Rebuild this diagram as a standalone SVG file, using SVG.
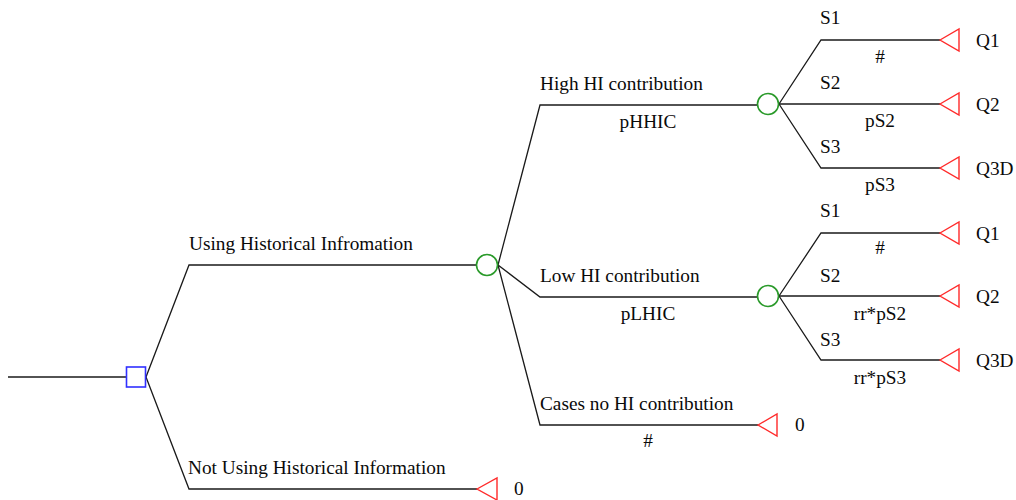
<svg xmlns="http://www.w3.org/2000/svg" width="1016" height="500" viewBox="0 0 1016 500">
<style>
.ln{fill:none;stroke:#1a1a1a;stroke-width:1.3;stroke-linejoin:miter}
.dec{fill:#fff;stroke:#3030ff;stroke-width:1.6}
.chn{fill:#fff;stroke:#2a9a2a;stroke-width:1.6}
.ter{fill:#fff;stroke:#ff2a2a;stroke-width:1.4;stroke-linejoin:miter}
text{font-family:'Liberation Serif','DejaVu Serif',serif;font-size:19.3px;fill:#0a0a0a}
.c{text-anchor:middle}
</style>
<rect width="1016" height="500" fill="#fff"/>
<g id="connectors">
<path class="ln" d="M8,377H126"/>
<polyline class="ln" points="146,377 189,265 476,265"/>
<polyline class="ln" points="146,377 189,489 477,489"/>
<polyline class="ln" points="498,265 540,105 757,105"/>
<polyline class="ln" points="498,265 540,297 757,297"/>
<polyline class="ln" points="498,265 540,425 758,425"/>
<polyline class="ln" points="779,104 821,40 940,40"/>
<polyline class="ln" points="779,104 940,104"/>
<polyline class="ln" points="779,104 821,168 940,168"/>
<polyline class="ln" points="779,296 821,233 940,233"/>
<polyline class="ln" points="779,296 940,296"/>
<polyline class="ln" points="779,296 821,360 940,360"/>
</g>
<g id="labels" font-family="Liberation Serif, serif">
<text x="189" y="250">Using Historical Infromation</text>
<text x="188" y="474">Not Using Historical Information</text>
<text x="540" y="90">High HI contribution</text>
<text class="c" x="648" y="128">pHHIC</text>
<text x="540" y="282">Low HI contribution</text>
<text class="c" x="648" y="320">pLHIC</text>
<text x="540" y="410">Cases no HI contribution</text>
<text class="c" x="648" y="447">#</text>
<text x="820" y="24">S1</text>
<text class="c" x="880" y="63">#</text>
<text x="820" y="89">S2</text>
<text class="c" x="880" y="127">pS2</text>
<text x="820" y="153">S3</text>
<text class="c" x="880" y="191">pS3</text>
<text x="820" y="217">S1</text>
<text class="c" x="880" y="254">#</text>
<text x="820" y="282">S2</text>
<text class="c" x="880" y="320">rr*pS2</text>
<text x="820" y="346">S3</text>
<text class="c" x="880" y="384">rr*pS3</text>
</g>
<g id="decision"><rect class="dec" x="126.5" y="367" width="19" height="20"/></g>
<g id="chance1"><circle class="chn" cx="487" cy="265" r="10.5"/></g>
<g id="chance2"><circle class="chn" cx="768" cy="104" r="10.5"/></g>
<g id="chance3"><circle class="chn" cx="768" cy="296" r="10.5"/></g>
<g id="t-q1a"><polygon class="ter" points="940,40 959,29 959,51"/><text x="976" y="47">Q1</text></g>
<g id="t-q2a"><polygon class="ter" points="940,104 959,93 959,115"/><text x="976" y="111">Q2</text></g>
<g id="t-q3a"><polygon class="ter" points="940,168 959,157 959,179"/><text x="976" y="175">Q3D</text></g>
<g id="t-q1b"><polygon class="ter" points="940,233 959,222 959,244"/><text x="976" y="240">Q1</text></g>
<g id="t-q2b"><polygon class="ter" points="940,296 959,285 959,307"/><text x="976" y="303">Q2</text></g>
<g id="t-q3b"><polygon class="ter" points="940,360 959,349 959,371"/><text x="976" y="367">Q3D</text></g>
<g id="t-none"><polygon class="ter" points="758,425 777,414 777,436"/><text x="795" y="431">0</text></g>
<g id="t-not"><polygon class="ter" points="477,489 497,478 497,500"/><text x="514" y="495">0</text></g>
</svg>
